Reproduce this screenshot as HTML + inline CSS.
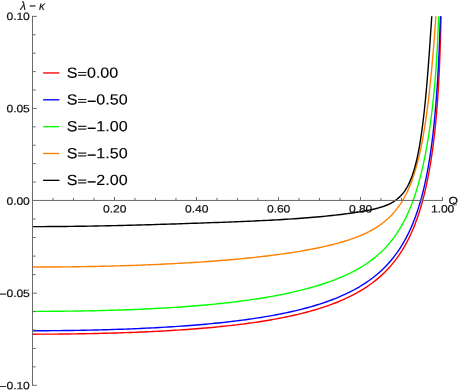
<!DOCTYPE html>
<html><head><meta charset="utf-8"><title>plot</title>
<style>
html,body{margin:0;padding:0;background:#fff;}
body{width:458px;height:392px;overflow:hidden;font-family:"Liberation Sans",sans-serif;}
svg{display:block;will-change:transform;}
</style></head><body>
<svg width="458" height="392" viewBox="0 0 458 392">
<rect width="458" height="392" fill="#ffffff"/>
<g fill="none" stroke-width="1.4" stroke-linejoin="round" stroke-linecap="butt">
<path d="M32.50,334.18 L35.59,334.18 L38.68,334.17 L41.76,334.17 L44.85,334.15 L47.94,334.14 L51.03,334.12 L54.12,334.10 L57.21,334.08 L60.29,334.05 L63.38,334.02 L66.47,333.99 L69.56,333.95 L72.65,333.91 L75.74,333.87 L78.82,333.82 L81.91,333.77 L85.00,333.71 L88.09,333.66 L91.18,333.60 L94.26,333.53 L97.35,333.46 L100.44,333.39 L103.53,333.31 L106.62,333.23 L109.71,333.15 L112.79,333.06 L115.88,332.97 L118.97,332.87 L122.06,332.77 L125.15,332.67 L128.24,332.56 L131.32,332.44 L134.41,332.33 L137.50,332.20 L140.59,332.07 L143.68,331.94 L146.76,331.80 L149.85,331.66 L152.94,331.51 L156.03,331.36 L159.12,331.20 L162.21,331.03 L165.29,330.86 L168.38,330.68 L171.47,330.50 L174.56,330.31 L177.65,330.12 L180.74,329.91 L183.82,329.70 L186.91,329.49 L190.00,329.26 L193.09,329.03 L196.18,328.79 L199.26,328.54 L202.35,328.29 L205.44,328.03 L208.53,327.75 L211.62,327.47 L214.71,327.18 L217.79,326.88 L220.88,326.57 L223.97,326.25 L227.06,325.92 L230.15,325.58 L233.24,325.23 L236.32,324.86 L239.41,324.49 L242.50,324.10 L245.59,323.70 L248.68,323.28 L251.76,322.85 L254.85,322.41 L257.94,321.95 L261.03,321.48 L264.12,320.99 L267.21,320.48 L270.29,319.96 L273.38,319.41 L276.47,318.85 L279.56,318.27 L282.65,317.67 L285.74,317.04 L288.82,316.40 L291.91,315.73 L295.00,315.03 L298.09,314.31 L301.18,313.56 L304.26,312.78 L307.35,311.97 L310.44,311.13 L313.53,310.26 L316.62,309.35 L319.71,308.40 L322.79,307.41 L325.88,306.38 L328.97,305.30 L332.06,304.17 L335.15,303.00 L338.24,301.76 L341.32,300.47 L344.41,299.11 L347.50,297.69 L350.59,296.19 L353.68,294.61 L356.76,292.95 L359.85,291.19 L362.94,289.32 L366.03,287.35 L369.12,285.26 L372.21,283.03 L375.29,280.65 L378.38,278.10 L381.47,275.38 L384.56,272.45 L387.65,269.29 L390.74,265.87 L393.82,262.16 L396.91,258.12 L400.00,253.69 L400.45,253.01 L400.89,252.33 L401.34,251.63 L401.79,250.93 L402.21,250.25 L402.64,249.56 L403.06,248.86 L403.49,248.15 L403.91,247.43 L404.31,246.74 L404.72,246.04 L405.12,245.33 L405.53,244.60 L405.93,243.87 L406.33,243.13 L406.72,242.42 L407.10,241.70 L407.48,240.96 L407.86,240.22 L408.25,239.47 L408.61,238.75 L408.97,238.02 L409.33,237.28 L409.69,236.53 L410.05,235.77 L410.39,235.05 L410.73,234.31 L411.07,233.57 L411.41,232.82 L411.75,232.05 L412.09,231.28 L412.41,230.55 L412.73,229.80 L413.05,229.05 L413.37,228.28 L413.69,227.51 L414.01,226.73 L414.33,225.93 L414.62,225.18 L414.92,224.42 L415.22,223.65 L415.52,222.87 L415.81,222.08 L416.11,221.28 L416.39,220.53 L416.66,219.77 L416.94,219.00 L417.22,218.22 L417.49,217.43 L417.77,216.63 L418.05,215.82 L418.32,215.00 L418.58,214.23 L418.83,213.46 L419.09,212.67 L419.34,211.88 L419.60,211.07 L419.85,210.26 L420.11,209.43 L420.34,208.67 L420.58,207.89 L420.81,207.11 L421.04,206.32 L421.28,205.51 L421.51,204.70 L421.74,203.88 L421.98,203.05 L422.21,202.21 L422.42,201.44 L422.64,200.65 L422.85,199.86 L423.06,199.06 L423.27,198.25 L423.49,197.43 L423.70,196.60 L423.91,195.76 L424.13,194.91 L424.34,194.05 L424.53,193.27 L424.72,192.48 L424.91,191.68 L425.10,190.87 L425.29,190.05 L425.49,189.23 L425.68,188.39 L425.87,187.54 L426.06,186.69 L426.25,185.82 L426.44,184.95 L426.61,184.16 L426.78,183.36 L426.95,182.56 L427.12,181.74 L427.29,180.92 L427.46,180.09 L427.63,179.25 L427.80,178.40 L427.97,177.54 L428.14,176.67 L428.31,175.79 L428.48,174.89 L428.63,174.11 L428.78,173.31 L428.93,172.51 L429.08,171.69 L429.23,170.87 L429.38,170.04 L429.52,169.20 L429.67,168.35 L429.82,167.49 L429.97,166.63 L430.12,165.75 L430.27,164.86 L430.42,163.96 L430.57,163.05 L430.71,162.14 L430.84,161.34 L430.97,160.53 L431.10,159.72 L431.22,158.90 L431.35,158.07 L431.48,157.23 L431.61,156.38 L431.73,155.52 L431.86,154.66 L431.99,153.78 L432.12,152.89 L432.24,152.00 L432.37,151.09 L432.50,150.17 L432.63,149.24 L432.75,148.30 L432.88,147.35 L432.99,146.55 L433.10,145.74 L433.20,144.93 L433.31,144.10 L433.41,143.26 L433.52,142.42 L433.63,141.57 L433.73,140.70 L433.84,139.83 L433.95,138.95 L434.05,138.05 L434.16,137.15 L434.26,136.24 L434.37,135.31 L434.48,134.38 L434.58,133.43 L434.69,132.47 L434.80,131.50 L434.90,130.52 L434.99,129.72 L435.07,128.92 L435.16,128.10 L435.24,127.28 L435.33,126.45 L435.41,125.61 L435.50,124.76 L435.58,123.91 L435.67,123.04 L435.75,122.16 L435.84,121.27 L435.92,120.37 L436.01,119.46 L436.09,118.54 L436.18,117.60 L436.26,116.66 L436.35,115.70 L436.43,114.73 L436.52,113.74 L436.60,112.75 L436.69,111.74 L436.77,110.71 L436.86,109.67 L436.94,108.62 L437.01,107.81 L437.07,107.00 L437.13,106.18 L437.20,105.35 L437.26,104.51 L437.32,103.67 L437.39,102.81 L437.45,101.93 L437.52,101.05 L437.58,100.16 L437.64,99.26 L437.71,98.34 L437.77,97.41 L437.84,96.47 L437.90,95.52 L437.96,94.55 L438.03,93.57 L438.09,92.57 L438.15,91.56 L438.22,90.54 L438.28,89.50 L438.35,88.44 L438.41,87.37 L438.47,86.28 L438.54,85.17 L438.60,84.04 L438.66,82.89 L438.73,81.72 L438.79,80.54 L438.83,79.73 L438.88,78.92 L438.92,78.10 L438.96,77.26 L439.00,76.42 L439.05,75.56 L439.09,74.70 L439.13,73.82 L439.17,72.93 L439.22,72.03 L439.26,71.11 L439.30,70.19 L439.34,69.25 L439.39,68.30 L439.43,67.33 L439.47,66.35 L439.51,65.35 L439.56,64.34 L439.60,63.32 L439.64,62.28 L439.68,61.22 L439.73,60.15 L439.77,59.06 L439.81,57.95 L439.85,56.82 L439.90,55.68 L439.94,54.52 L439.98,53.33 L440.02,52.13 L440.07,50.91 L440.11,49.66 L440.15,48.40 L440.19,47.11 L440.24,45.80 L440.28,44.47 L440.32,43.11 L440.36,41.73 L440.41,40.32 L440.45,38.89 L440.49,37.43 L440.53,35.95 L440.58,34.44 L440.62,32.91 L440.66,31.35 L440.70,29.77 L440.73,28.97 L440.75,28.16 L440.77,27.35 L440.79,26.53 L440.81,25.70 L440.83,24.87 L440.85,24.03 L440.87,23.19 L440.90,22.35 L440.92,21.49 L440.94,20.64 L440.96,19.78 L440.98,18.92 L441.00,18.05 L441.02,17.18 L441.04,16.31 L441.05,16.20" stroke="#ff0000"/>
<path d="M32.50,330.72 L35.59,330.72 L38.68,330.71 L41.76,330.70 L44.85,330.69 L47.94,330.68 L51.03,330.66 L54.12,330.64 L57.21,330.61 L60.29,330.58 L63.38,330.55 L66.47,330.51 L69.56,330.47 L72.65,330.43 L75.74,330.38 L78.82,330.33 L81.91,330.27 L85.00,330.21 L88.09,330.15 L91.18,330.09 L94.26,330.02 L97.35,329.94 L100.44,329.86 L103.53,329.78 L106.62,329.70 L109.71,329.61 L112.79,329.51 L115.88,329.41 L118.97,329.31 L122.06,329.20 L125.15,329.09 L128.24,328.97 L131.32,328.85 L134.41,328.72 L137.50,328.59 L140.59,328.46 L143.68,328.32 L146.76,328.17 L149.85,328.02 L152.94,327.86 L156.03,327.70 L159.12,327.53 L162.21,327.35 L165.29,327.17 L168.38,326.99 L171.47,326.79 L174.56,326.59 L177.65,326.39 L180.74,326.17 L183.82,325.95 L186.91,325.73 L190.00,325.49 L193.09,325.25 L196.18,325.00 L199.26,324.74 L202.35,324.48 L205.44,324.20 L208.53,323.92 L211.62,323.62 L214.71,323.32 L217.79,323.01 L220.88,322.69 L223.97,322.36 L227.06,322.02 L230.15,321.66 L233.24,321.30 L236.32,320.92 L239.41,320.53 L242.50,320.13 L245.59,319.72 L248.68,319.29 L251.76,318.85 L254.85,318.40 L257.94,317.92 L261.03,317.44 L264.12,316.93 L267.21,316.41 L270.29,315.88 L273.38,315.32 L276.47,314.75 L279.56,314.15 L282.65,313.53 L285.74,312.90 L288.82,312.23 L291.91,311.55 L295.00,310.84 L298.09,310.10 L301.18,309.33 L304.26,308.54 L307.35,307.71 L310.44,306.85 L313.53,305.96 L316.62,305.03 L319.71,304.06 L322.79,303.05 L325.88,302.00 L328.97,300.90 L332.06,299.75 L335.15,298.55 L338.24,297.29 L341.32,295.98 L344.41,294.59 L347.50,293.14 L350.59,291.61 L353.68,290.00 L356.76,288.31 L359.85,286.52 L362.94,284.62 L366.03,282.61 L369.12,280.47 L372.21,278.20 L375.29,275.78 L378.38,273.19 L381.47,270.41 L384.56,267.43 L387.65,264.21 L390.74,260.72 L393.82,256.94 L396.91,252.81 L400.00,248.28 L400.45,247.59 L400.89,246.89 L401.34,246.18 L401.76,245.49 L402.19,244.79 L402.61,244.09 L403.04,243.37 L403.46,242.65 L403.87,241.95 L404.27,241.24 L404.68,240.52 L405.08,239.79 L405.48,239.05 L405.87,238.34 L406.25,237.62 L406.63,236.89 L407.01,236.15 L407.40,235.40 L407.76,234.68 L408.12,233.95 L408.48,233.22 L408.84,232.47 L409.20,231.71 L409.57,230.94 L409.91,230.21 L410.25,229.47 L410.59,228.71 L410.93,227.95 L411.27,227.18 L411.58,226.44 L411.90,225.70 L412.22,224.95 L412.54,224.18 L412.86,223.41 L413.18,222.62 L413.50,221.83 L413.79,221.08 L414.09,220.31 L414.39,219.54 L414.69,218.76 L414.99,217.97 L415.28,217.17 L415.56,216.41 L415.84,215.65 L416.11,214.88 L416.39,214.09 L416.66,213.30 L416.94,212.49 L417.22,211.68 L417.47,210.92 L417.73,210.15 L417.98,209.37 L418.24,208.58 L418.49,207.78 L418.75,206.97 L419.00,206.15 L419.26,205.32 L419.49,204.55 L419.73,203.77 L419.96,202.98 L420.19,202.18 L420.43,201.37 L420.66,200.55 L420.89,199.72 L421.13,198.88 L421.34,198.11 L421.55,197.33 L421.77,196.54 L421.98,195.74 L422.19,194.93 L422.40,194.11 L422.62,193.28 L422.83,192.44 L423.04,191.59 L423.25,190.73 L423.44,189.94 L423.64,189.15 L423.83,188.35 L424.02,187.54 L424.21,186.72 L424.40,185.89 L424.59,185.05 L424.78,184.20 L424.98,183.34 L425.17,182.47 L425.34,181.68 L425.51,180.89 L425.68,180.09 L425.85,179.28 L426.02,178.46 L426.19,177.63 L426.36,176.80 L426.53,175.95 L426.70,175.09 L426.87,174.23 L427.04,173.35 L427.21,172.46 L427.38,171.56 L427.53,170.77 L427.67,169.96 L427.82,169.15 L427.97,168.33 L428.12,167.50 L428.27,166.66 L428.42,165.81 L428.57,164.95 L428.72,164.08 L428.87,163.21 L429.01,162.32 L429.16,161.42 L429.31,160.51 L429.46,159.59 L429.59,158.79 L429.72,157.98 L429.84,157.17 L429.97,156.35 L430.10,155.52 L430.23,154.67 L430.35,153.82 L430.48,152.97 L430.61,152.10 L430.74,151.22 L430.86,150.33 L430.99,149.43 L431.12,148.52 L431.25,147.60 L431.37,146.67 L431.50,145.73 L431.63,144.78 L431.73,143.98 L431.84,143.17 L431.95,142.35 L432.05,141.52 L432.16,140.69 L432.27,139.84 L432.37,138.99 L432.48,138.13 L432.58,137.25 L432.69,136.37 L432.80,135.48 L432.90,134.58 L433.01,133.67 L433.12,132.75 L433.22,131.82 L433.33,130.88 L433.44,129.93 L433.54,128.96 L433.65,127.99 L433.75,127.00 L433.84,126.20 L433.92,125.39 L434.01,124.58 L434.09,123.76 L434.18,122.93 L434.26,122.09 L434.35,121.24 L434.43,120.38 L434.52,119.52 L434.60,118.65 L434.69,117.76 L434.77,116.87 L434.86,115.97 L434.94,115.06 L435.03,114.13 L435.11,113.20 L435.20,112.26 L435.28,111.30 L435.37,110.34 L435.45,109.36 L435.54,108.38 L435.62,107.38 L435.71,106.37 L435.79,105.34 L435.88,104.31 L435.96,103.26 L436.05,102.20 L436.11,101.39 L436.18,100.58 L436.24,99.76 L436.30,98.93 L436.37,98.09 L436.43,97.25 L436.50,96.40 L436.56,95.53 L436.62,94.66 L436.69,93.78 L436.75,92.89 L436.81,92.00 L436.88,91.09 L436.94,90.17 L437.01,89.24 L437.07,88.31 L437.13,87.36 L437.20,86.40 L437.26,85.43 L437.32,84.45 L437.39,83.46 L437.45,82.46 L437.52,81.44 L437.58,80.41 L437.64,79.37 L437.71,78.32 L437.77,77.26 L437.84,76.18 L437.90,75.09 L437.96,73.99 L438.03,72.87 L438.09,71.73 L438.15,70.59 L438.22,69.42 L438.28,68.24 L438.35,67.05 L438.39,66.24 L438.43,65.43 L438.47,64.61 L438.52,63.78 L438.56,62.95 L438.60,62.10 L438.64,61.25 L438.69,60.39 L438.73,59.53 L438.77,58.65 L438.81,57.77 L438.86,56.87 L438.90,55.97 L438.94,55.06 L438.98,54.14 L439.03,53.21 L439.07,52.27 L439.11,51.33 L439.15,50.37 L439.20,49.40 L439.24,48.43 L439.28,47.44 L439.32,46.44 L439.37,45.43 L439.41,44.42 L439.45,43.39 L439.49,42.35 L439.54,41.30 L439.58,40.24 L439.62,39.16 L439.66,38.08 L439.71,36.98 L439.75,35.88 L439.79,34.76 L439.83,33.63 L439.88,32.49 L439.92,31.34 L439.96,30.17 L440.00,29.00 L440.05,27.81 L440.09,26.61 L440.13,25.40 L440.17,24.18 L440.22,22.95 L440.26,21.71 L440.30,20.46 L440.34,19.20 L440.39,17.93 L440.43,16.66 L440.44,16.20" stroke="#0000ff"/>
<path d="M32.50,311.36 L35.59,311.36 L38.68,311.36 L41.76,311.35 L44.85,311.34 L47.94,311.33 L51.03,311.31 L54.12,311.29 L57.21,311.26 L60.29,311.24 L63.38,311.20 L66.47,311.17 L69.56,311.13 L72.65,311.09 L75.74,311.05 L78.82,311.00 L81.91,310.95 L85.00,310.89 L88.09,310.84 L91.18,310.77 L94.26,310.71 L97.35,310.64 L100.44,310.56 L103.53,310.49 L106.62,310.40 L109.71,310.32 L112.79,310.23 L115.88,310.13 L118.97,310.03 L122.06,309.93 L125.15,309.82 L128.24,309.71 L131.32,309.59 L134.41,309.47 L137.50,309.34 L140.59,309.21 L143.68,309.07 L146.76,308.93 L149.85,308.78 L152.94,308.63 L156.03,308.47 L159.12,308.30 L162.21,308.13 L165.29,307.95 L168.38,307.77 L171.47,307.58 L174.56,307.38 L177.65,307.18 L180.74,306.97 L183.82,306.75 L186.91,306.52 L190.00,306.29 L193.09,306.05 L196.18,305.80 L199.26,305.54 L202.35,305.27 L205.44,305.00 L208.53,304.71 L211.62,304.42 L214.71,304.12 L217.79,303.80 L220.88,303.48 L223.97,303.15 L227.06,302.80 L230.15,302.45 L233.24,302.08 L236.32,301.70 L239.41,301.31 L242.50,300.91 L245.59,300.50 L248.68,300.07 L251.76,299.63 L254.85,299.17 L257.94,298.70 L261.03,298.21 L264.12,297.71 L267.21,297.19 L270.29,296.65 L273.38,296.10 L276.47,295.53 L279.56,294.93 L282.65,294.32 L285.74,293.69 L288.82,293.04 L291.91,292.36 L295.00,291.66 L298.09,290.93 L301.18,290.18 L304.26,289.40 L307.35,288.59 L310.44,287.74 L313.53,286.87 L316.62,285.96 L319.71,285.02 L322.79,284.03 L325.88,283.01 L328.97,281.93 L332.06,280.82 L335.15,279.65 L338.24,278.42 L341.32,277.14 L344.41,275.79 L347.50,274.37 L350.59,272.88 L353.68,271.30 L356.76,269.63 L359.85,267.87 L362.94,265.99 L366.03,264.00 L369.12,261.87 L372.21,259.60 L375.29,257.16 L378.38,254.54 L381.47,251.70 L384.56,248.64 L387.65,245.30 L390.74,241.66 L393.82,237.68 L396.91,233.28 L400.00,228.43 L400.43,227.72 L400.85,227.00 L401.25,226.30 L401.66,225.60 L402.06,224.89 L402.47,224.16 L402.87,223.43 L403.25,222.72 L403.63,222.00 L404.02,221.28 L404.40,220.54 L404.78,219.79 L405.14,219.08 L405.51,218.35 L405.87,217.62 L406.23,216.87 L406.59,216.11 L406.95,215.35 L407.29,214.62 L407.63,213.87 L407.97,213.12 L408.31,212.36 L408.65,211.59 L408.99,210.81 L409.31,210.06 L409.63,209.31 L409.95,208.55 L410.27,207.77 L410.59,206.99 L410.90,206.19 L411.20,205.44 L411.50,204.68 L411.80,203.91 L412.09,203.13 L412.39,202.34 L412.69,201.54 L412.97,200.79 L413.24,200.03 L413.52,199.25 L413.79,198.47 L414.07,197.68 L414.35,196.88 L414.62,196.07 L414.90,195.25 L415.16,194.48 L415.41,193.71 L415.67,192.92 L415.92,192.13 L416.18,191.33 L416.43,190.51 L416.69,189.69 L416.94,188.85 L417.17,188.08 L417.41,187.30 L417.64,186.51 L417.88,185.71 L418.11,184.90 L418.34,184.08 L418.58,183.25 L418.81,182.42 L419.05,181.57 L419.26,180.79 L419.47,180.00 L419.68,179.21 L419.90,178.40 L420.11,177.59 L420.32,176.76 L420.53,175.93 L420.75,175.09 L420.96,174.24 L421.17,173.38 L421.36,172.60 L421.55,171.81 L421.74,171.01 L421.94,170.20 L422.13,169.39 L422.32,168.56 L422.51,167.73 L422.70,166.89 L422.89,166.04 L423.08,165.18 L423.27,164.31 L423.47,163.43 L423.64,162.64 L423.81,161.85 L423.98,161.04 L424.15,160.23 L424.32,159.41 L424.49,158.58 L424.66,157.74 L424.83,156.90 L425.00,156.04 L425.17,155.18 L425.34,154.31 L425.51,153.43 L425.68,152.54 L425.83,151.75 L425.97,150.96 L426.12,150.15 L426.27,149.35 L426.42,148.53 L426.57,147.71 L426.72,146.87 L426.87,146.03 L427.02,145.19 L427.16,144.33 L427.31,143.47 L427.46,142.59 L427.61,141.71 L427.76,140.82 L427.91,139.92 L428.06,139.01 L428.21,138.09 L428.33,137.30 L428.46,136.50 L428.59,135.69 L428.72,134.87 L428.84,134.05 L428.97,133.22 L429.10,132.38 L429.23,131.53 L429.35,130.68 L429.48,129.82 L429.61,128.95 L429.74,128.07 L429.86,127.18 L429.99,126.28 L430.12,125.38 L430.25,124.46 L430.37,123.54 L430.50,122.61 L430.63,121.67 L430.76,120.71 L430.86,119.91 L430.97,119.11 L431.08,118.29 L431.18,117.47 L431.29,116.64 L431.39,115.80 L431.50,114.95 L431.61,114.10 L431.71,113.24 L431.82,112.37 L431.93,111.49 L432.03,110.61 L432.14,109.71 L432.24,108.81 L432.35,107.89 L432.46,106.97 L432.56,106.04 L432.67,105.10 L432.78,104.14 L432.88,103.18 L432.99,102.21 L433.10,101.22 L433.20,100.23 L433.29,99.42 L433.37,98.61 L433.46,97.79 L433.54,96.97 L433.63,96.13 L433.71,95.29 L433.80,94.43 L433.88,93.57 L433.97,92.70 L434.05,91.83 L434.14,90.94 L434.22,90.04 L434.31,89.13 L434.39,88.22 L434.48,87.29 L434.56,86.35 L434.65,85.40 L434.73,84.44 L434.82,83.47 L434.90,82.49 L434.99,81.49 L435.07,80.48 L435.16,79.46 L435.24,78.42 L435.33,77.37 L435.41,76.31 L435.48,75.50 L435.54,74.69 L435.60,73.86 L435.67,73.03 L435.73,72.18 L435.79,71.33 L435.86,70.46 L435.92,69.59 L435.99,68.71 L436.05,67.81 L436.11,66.90 L436.18,65.99 L436.24,65.06 L436.30,64.11 L436.37,63.16 L436.43,62.19 L436.50,61.21 L436.56,60.21 L436.62,59.20 L436.69,58.18 L436.75,57.14 L436.81,56.08 L436.88,55.01 L436.94,53.92 L437.01,52.81 L437.07,51.68 L437.13,50.54 L437.20,49.37 L437.26,48.19 L437.30,47.38 L437.35,46.57 L437.39,45.75 L437.43,44.91 L437.47,44.07 L437.52,43.21 L437.56,42.35 L437.60,41.47 L437.64,40.58 L437.69,39.67 L437.73,38.76 L437.77,37.83 L437.81,36.89 L437.86,35.93 L437.90,34.96 L437.94,33.98 L437.98,32.97 L438.03,31.96 L438.07,30.93 L438.11,29.88 L438.15,28.81 L438.20,27.73 L438.24,26.62 L438.28,25.50 L438.32,24.36 L438.37,23.20 L438.41,22.01 L438.45,20.81 L438.49,19.58 L438.54,18.33 L438.58,17.05 L438.61,16.20" stroke="#00ff00"/>
<path d="M32.50,267.06 L35.59,267.06 L38.68,267.06 L41.76,267.05 L44.85,267.04 L47.94,267.02 L51.03,267.01 L54.12,266.99 L57.21,266.96 L60.29,266.94 L63.38,266.91 L66.47,266.88 L69.56,266.84 L72.65,266.80 L75.74,266.76 L78.82,266.72 L81.91,266.67 L85.00,266.62 L88.09,266.56 L91.18,266.51 L94.26,266.44 L97.35,266.38 L100.44,266.31 L103.53,266.24 L106.62,266.17 L109.71,266.09 L112.79,266.01 L115.88,265.92 L118.97,265.83 L122.06,265.74 L125.15,265.65 L128.24,265.55 L131.32,265.44 L134.41,265.34 L137.50,265.23 L140.59,265.11 L143.68,264.99 L146.76,264.87 L149.85,264.75 L152.94,264.61 L156.03,264.48 L159.12,264.34 L162.21,264.20 L165.29,264.05 L168.38,263.90 L171.47,263.74 L174.56,263.58 L177.65,263.41 L180.74,263.24 L183.82,263.07 L186.91,262.88 L190.00,262.70 L193.09,262.51 L196.18,262.31 L199.26,262.11 L202.35,261.90 L205.44,261.69 L208.53,261.47 L211.62,261.24 L214.71,261.01 L217.79,260.77 L220.88,260.53 L223.97,260.28 L227.06,260.02 L230.15,259.75 L233.24,259.48 L236.32,259.20 L239.41,258.91 L242.50,258.62 L245.59,258.31 L248.68,258.00 L251.76,257.68 L254.85,257.35 L257.94,257.01 L261.03,256.67 L264.12,256.31 L267.21,255.94 L270.29,255.56 L273.38,255.17 L276.47,254.77 L279.56,254.36 L282.65,253.93 L285.74,253.49 L288.82,253.04 L291.91,252.57 L295.00,252.08 L298.09,251.58 L301.18,251.07 L304.26,250.53 L307.35,249.98 L310.44,249.41 L313.53,248.81 L316.62,248.20 L319.71,247.56 L322.79,246.89 L325.88,246.19 L328.97,245.47 L332.06,244.71 L335.15,243.92 L338.24,243.08 L341.32,242.21 L344.41,241.29 L347.50,240.32 L350.59,239.29 L353.68,238.21 L356.76,237.05 L359.85,235.81 L362.94,234.49 L366.03,233.08 L369.12,231.55 L372.21,229.89 L375.29,228.09 L378.38,226.13 L381.47,223.97 L384.56,221.59 L387.65,218.95 L390.74,216.00 L393.82,212.68 L396.91,208.92 L400.00,204.63 L400.45,203.96 L400.89,203.27 L401.34,202.58 L401.76,201.90 L402.19,201.20 L402.61,200.50 L403.04,199.78 L403.44,199.08 L403.85,198.37 L404.25,197.64 L404.65,196.90 L405.04,196.18 L405.42,195.45 L405.80,194.71 L406.16,193.99 L406.53,193.27 L406.89,192.52 L407.25,191.77 L407.59,191.04 L407.93,190.30 L408.27,189.55 L408.61,188.78 L408.95,188.00 L409.27,187.26 L409.59,186.50 L409.91,185.73 L410.22,184.95 L410.52,184.20 L410.82,183.45 L411.12,182.68 L411.41,181.89 L411.71,181.10 L411.99,180.35 L412.26,179.58 L412.54,178.81 L412.82,178.02 L413.09,177.22 L413.37,176.40 L413.62,175.64 L413.88,174.86 L414.13,174.08 L414.39,173.28 L414.65,172.47 L414.90,171.64 L415.13,170.88 L415.37,170.10 L415.60,169.31 L415.84,168.51 L416.07,167.70 L416.30,166.87 L416.54,166.04 L416.77,165.19 L416.98,164.40 L417.20,163.61 L417.41,162.81 L417.62,161.99 L417.83,161.17 L418.05,160.33 L418.26,159.48 L418.47,158.62 L418.66,157.83 L418.85,157.04 L419.05,156.23 L419.24,155.41 L419.43,154.59 L419.62,153.75 L419.81,152.90 L420.00,152.04 L420.19,151.17 L420.36,150.39 L420.53,149.60 L420.70,148.80 L420.87,147.99 L421.04,147.17 L421.21,146.34 L421.38,145.50 L421.55,144.65 L421.72,143.79 L421.89,142.92 L422.06,142.04 L422.23,141.15 L422.38,140.36 L422.53,139.56 L422.68,138.76 L422.83,137.95 L422.98,137.12 L423.13,136.29 L423.27,135.45 L423.42,134.60 L423.57,133.74 L423.72,132.88 L423.87,132.00 L424.02,131.11 L424.17,130.22 L424.32,129.31 L424.47,128.40 L424.59,127.60 L424.72,126.80 L424.85,126.00 L424.98,125.18 L425.10,124.36 L425.23,123.53 L425.36,122.69 L425.49,121.84 L425.61,120.98 L425.74,120.12 L425.87,119.25 L426.00,118.37 L426.12,117.48 L426.25,116.58 L426.38,115.68 L426.51,114.76 L426.63,113.84 L426.76,112.91 L426.89,111.97 L427.02,111.02 L427.12,110.22 L427.23,109.41 L427.33,108.60 L427.44,107.78 L427.55,106.96 L427.65,106.13 L427.76,105.29 L427.87,104.44 L427.97,103.59 L428.08,102.73 L428.18,101.86 L428.29,100.99 L428.40,100.11 L428.50,99.22 L428.61,98.33 L428.72,97.42 L428.82,96.51 L428.93,95.60 L429.04,94.67 L429.14,93.74 L429.25,92.80 L429.35,91.85 L429.46,90.89 L429.57,89.93 L429.67,88.96 L429.78,87.98 L429.89,86.99 L429.97,86.20 L430.06,85.40 L430.14,84.59 L430.23,83.78 L430.31,82.96 L430.40,82.14 L430.48,81.31 L430.57,80.48 L430.65,79.64 L430.74,78.80 L430.82,77.95 L430.91,77.10 L430.99,76.24 L431.08,75.37 L431.16,74.50 L431.25,73.62 L431.33,72.74 L431.42,71.85 L431.50,70.96 L431.59,70.06 L431.67,69.15 L431.76,68.24 L431.84,67.32 L431.93,66.40 L432.01,65.47 L432.10,64.54 L432.18,63.60 L432.27,62.65 L432.35,61.70 L432.44,60.74 L432.52,59.78 L432.61,58.81 L432.69,57.83 L432.78,56.85 L432.86,55.86 L432.95,54.86 L433.03,53.86 L433.12,52.86 L433.20,51.84 L433.29,50.82 L433.37,49.80 L433.46,48.77 L433.54,47.73 L433.63,46.69 L433.71,45.64 L433.80,44.58 L433.88,43.52 L433.95,42.72 L434.01,41.91 L434.07,41.10 L434.14,40.29 L434.20,39.48 L434.26,38.66 L434.33,37.84 L434.39,37.01 L434.46,36.18 L434.52,35.35 L434.58,34.51 L434.65,33.67 L434.71,32.83 L434.77,31.98 L434.84,31.13 L434.90,30.27 L434.97,29.42 L435.03,28.55 L435.09,27.69 L435.16,26.82 L435.22,25.94 L435.28,25.07 L435.35,24.18 L435.41,23.30 L435.48,22.41 L435.54,21.51 L435.60,20.62 L435.67,19.72 L435.73,18.81 L435.79,17.90 L435.86,16.98 L435.91,16.20" stroke="#ff8000"/>
<path d="M32.50,226.61 L35.59,226.61 L38.68,226.60 L41.76,226.59 L44.85,226.58 L47.94,226.57 L51.03,226.55 L54.12,226.53 L57.21,226.51 L60.29,226.49 L63.38,226.46 L66.47,226.43 L69.56,226.39 L72.65,226.36 L75.74,226.32 L78.82,226.27 L81.91,226.23 L85.00,226.18 L88.09,226.13 L91.18,226.08 L94.26,226.02 L97.35,225.97 L100.44,225.91 L103.53,225.85 L106.62,225.78 L109.71,225.71 L112.79,225.65 L115.88,225.58 L118.97,225.50 L122.06,225.43 L125.15,225.35 L128.24,225.27 L131.32,225.19 L134.41,225.11 L137.50,225.03 L140.59,224.94 L143.68,224.86 L146.76,224.77 L149.85,224.68 L152.94,224.59 L156.03,224.50 L159.12,224.41 L162.21,224.31 L165.29,224.22 L168.38,224.12 L171.47,224.03 L174.56,223.93 L177.65,223.83 L180.74,223.73 L183.82,223.63 L186.91,223.52 L190.00,223.42 L193.09,223.32 L196.18,223.21 L199.26,223.11 L202.35,223.00 L205.44,222.89 L208.53,222.78 L211.62,222.67 L214.71,222.56 L217.79,222.45 L220.88,222.33 L223.97,222.22 L227.06,222.10 L230.15,221.98 L233.24,221.86 L236.32,221.74 L239.41,221.61 L242.50,221.48 L245.59,221.35 L248.68,221.22 L251.76,221.08 L254.85,220.94 L257.94,220.80 L261.03,220.65 L264.12,220.50 L267.21,220.35 L270.29,220.19 L273.38,220.02 L276.47,219.85 L279.56,219.68 L282.65,219.50 L285.74,219.31 L288.82,219.12 L291.91,218.92 L295.00,218.71 L298.09,218.49 L301.18,218.27 L304.26,218.04 L307.35,217.79 L310.44,217.54 L313.53,217.28 L316.62,217.01 L319.71,216.73 L322.79,216.44 L325.88,216.14 L328.97,215.82 L332.06,215.49 L335.15,215.15 L338.24,214.80 L341.32,214.43 L344.41,214.04 L347.50,213.64 L350.59,213.22 L353.68,212.78 L356.76,212.31 L359.85,211.82 L362.94,211.30 L366.03,210.74 L369.12,210.14 L372.21,209.48 L375.29,208.76 L378.38,207.95 L381.47,207.04 L384.56,205.99 L387.65,204.76 L390.74,203.29 L393.82,201.52 L396.91,199.34 L400.00,196.62 L400.57,196.04 L401.13,195.45 L401.68,194.84 L402.21,194.23 L402.74,193.59 L403.25,192.95 L403.74,192.31 L404.23,191.65 L404.70,190.98 L405.17,190.30 L405.61,189.61 L406.06,188.90 L406.48,188.20 L406.89,187.51 L407.29,186.79 L407.69,186.05 L408.08,185.33 L408.46,184.57 L408.82,183.84 L409.18,183.08 L409.52,182.35 L409.86,181.59 L410.20,180.80 L410.52,180.05 L410.84,179.27 L411.14,178.52 L411.44,177.75 L411.73,176.96 L412.01,176.21 L412.29,175.44 L412.56,174.64 L412.84,173.83 L413.09,173.06 L413.35,172.27 L413.60,171.46 L413.86,170.63 L414.09,169.85 L414.33,169.06 L414.56,168.25 L414.79,167.41 L415.01,166.64 L415.22,165.85 L415.43,165.05 L415.64,164.23 L415.86,163.39 L416.07,162.53 L416.26,161.75 L416.45,160.95 L416.64,160.13 L416.83,159.30 L417.03,158.46 L417.22,157.59 L417.41,156.71 L417.58,155.92 L417.75,155.11 L417.92,154.29 L418.09,153.45 L418.26,152.60 L418.43,151.73 L418.60,150.85 L418.77,149.96 L418.92,149.16 L419.07,148.36 L419.22,147.54 L419.36,146.71 L419.51,145.86 L419.66,145.00 L419.81,144.13 L419.96,143.25 L420.11,142.36 L420.26,141.45 L420.38,140.66 L420.51,139.85 L420.64,139.04 L420.77,138.22 L420.89,137.39 L421.02,136.55 L421.15,135.69 L421.28,134.83 L421.40,133.95 L421.53,133.07 L421.66,132.17 L421.79,131.26 L421.91,130.34 L422.04,129.41 L422.17,128.46 L422.28,127.66 L422.38,126.86 L422.49,126.04 L422.59,125.22 L422.70,124.39 L422.81,123.55 L422.91,122.70 L423.02,121.84 L423.13,120.97 L423.23,120.10 L423.34,119.21 L423.44,118.32 L423.55,117.41 L423.66,116.50 L423.76,115.57 L423.87,114.64 L423.98,113.69 L424.08,112.74 L424.19,111.78 L424.30,110.80 L424.40,109.82 L424.51,108.83 L424.59,108.02 L424.68,107.22 L424.76,106.40 L424.85,105.58 L424.93,104.75 L425.02,103.91 L425.10,103.07 L425.19,102.22 L425.27,101.36 L425.36,100.50 L425.44,99.63 L425.53,98.75 L425.61,97.87 L425.70,96.98 L425.78,96.08 L425.87,95.17 L425.95,94.26 L426.04,93.34 L426.12,92.41 L426.21,91.48 L426.29,90.53 L426.38,89.58 L426.46,88.63 L426.55,87.66 L426.63,86.69 L426.72,85.71 L426.80,84.73 L426.89,83.74 L426.97,82.73 L427.06,81.73 L427.14,80.71 L427.23,79.69 L427.31,78.66 L427.40,77.62 L427.48,76.58 L427.57,75.52 L427.65,74.46 L427.72,73.67 L427.78,72.86 L427.84,72.05 L427.91,71.24 L427.97,70.43 L428.04,69.61 L428.10,68.78 L428.16,67.96 L428.23,67.13 L428.29,66.29 L428.36,65.45 L428.42,64.61 L428.48,63.76 L428.55,62.91 L428.61,62.05 L428.67,61.20 L428.74,60.33 L428.80,59.47 L428.87,58.60 L428.93,57.72 L428.99,56.85 L429.06,55.97 L429.12,55.08 L429.18,54.20 L429.25,53.31 L429.31,52.41 L429.38,51.52 L429.44,50.62 L429.50,49.71 L429.57,48.81 L429.63,47.90 L429.69,46.99 L429.76,46.07 L429.82,45.15 L429.89,44.24 L429.95,43.31 L430.01,42.39 L430.08,41.46 L430.14,40.53 L430.20,39.60 L430.27,38.67 L430.33,37.74 L430.40,36.80 L430.46,35.86 L430.52,34.92 L430.59,33.99 L430.65,33.04 L430.71,32.10 L430.78,31.16 L430.84,30.22 L430.91,29.28 L430.97,28.33 L431.03,27.39 L431.10,26.45 L431.16,25.51 L431.22,24.57 L431.29,23.63 L431.35,22.69 L431.42,21.75 L431.48,20.82 L431.54,19.88 L431.61,18.95 L431.67,18.03 L431.73,17.10 L431.80,16.20" stroke="#000000"/>
</g>
<path d="M32.5,15.87 V385.80 M32.5,200.45 H442.95" fill="none" stroke="#6a6a6a" stroke-width="1"/>
<path d="M32.5,385.30 h4.3 M32.5,366.88 h3.2 M32.5,348.46 h3.2 M32.5,330.04 h3.2 M32.5,311.62 h3.2 M32.5,293.20 h4.3 M32.5,274.65 h3.2 M32.5,256.10 h3.2 M32.5,237.55 h3.2 M32.5,219.00 h3.2 M32.5,182.04 h3.2 M32.5,163.64 h3.2 M32.5,145.23 h3.2 M32.5,126.83 h3.2 M32.5,108.42 h4.3 M32.5,90.01 h3.2 M32.5,71.60 h3.2 M32.5,53.19 h3.2 M32.5,34.78 h3.2 M32.5,16.37 h4.3 M32.50,200.45 v-3.5 M53.00,200.45 v-2.6 M73.50,200.45 v-2.6 M93.99,200.45 v-2.6 M114.49,200.45 v-3.5 M134.99,200.45 v-2.6 M155.49,200.45 v-2.6 M175.98,200.45 v-2.6 M196.48,200.45 v-3.5 M216.98,200.45 v-2.6 M237.47,200.45 v-2.6 M257.97,200.45 v-2.6 M278.47,200.45 v-3.5 M298.97,200.45 v-2.6 M319.47,200.45 v-2.6 M339.96,200.45 v-2.6 M360.46,200.45 v-3.5 M380.96,200.45 v-2.6 M401.45,200.45 v-2.6 M421.95,200.45 v-2.6 M442.45,200.45 v-3.5" fill="none" stroke="#6a6a6a" stroke-width="1"/>
<g font-family="Liberation Sans, sans-serif" fill="#101010" stroke="#101010" stroke-width="0.18">
<text transform="translate(29.70,20.10) rotate(0.03) scale(1.145,1)" font-size="10.6" letter-spacing="-0.09" text-anchor="end">0.10</text>
<text transform="translate(29.70,112.35) rotate(0.03) scale(1.145,1)" font-size="10.6" letter-spacing="-0.09" text-anchor="end">0.05</text>
<text transform="translate(29.70,204.75) rotate(0.03) scale(1.145,1)" font-size="10.6" letter-spacing="-0.09" text-anchor="end">0.00</text>
<text transform="translate(29.70,297.00) rotate(0.03) scale(1.145,1)" font-size="10.6" letter-spacing="-0.09" text-anchor="end"><tspan dy="0.8">−</tspan><tspan dy="-0.8">0.05</tspan></text>
<text transform="translate(29.70,389.20) rotate(0.03) scale(1.145,1)" font-size="10.6" letter-spacing="-0.09" text-anchor="end"><tspan dy="0.8">−</tspan><tspan dy="-0.8">0.10</tspan></text>
<text transform="translate(114.69,212.55) rotate(0.03) scale(1.145,1)" font-size="10.6" letter-spacing="-0.09" text-anchor="middle">0.20</text>
<text transform="translate(196.68,212.55) rotate(0.03) scale(1.145,1)" font-size="10.6" letter-spacing="-0.09" text-anchor="middle">0.40</text>
<text transform="translate(278.67,212.55) rotate(0.03) scale(1.145,1)" font-size="10.6" letter-spacing="-0.09" text-anchor="middle">0.60</text>
<text transform="translate(360.66,212.55) rotate(0.03) scale(1.145,1)" font-size="10.6" letter-spacing="-0.09" text-anchor="middle">0.80</text>
<text transform="translate(442.65,212.55) rotate(0.03) scale(1.145,1)" font-size="10.6" letter-spacing="-0.09" text-anchor="middle">1.00</text>
<clipPath id="qc"><rect x="440" y="190" width="18" height="15.3"/></clipPath>
<g clip-path="url(#qc)"><text transform="translate(448.40,204.35) rotate(0.03) scale(1.145,1)" font-size="10.6" letter-spacing="0" text-anchor="start">Q</text></g>
<path d="M453.4,202.5 L456.5,204.5" stroke="#101010" stroke-width="1" fill="none"/>
</g>
<g font-family="Liberation Sans, sans-serif" font-style="italic" fill="#101010" stroke="#101010" stroke-width="0.12">
<text transform="translate(20.20,10.10) rotate(0.03) scale(0.965,1)" font-size="12.0" letter-spacing="0" text-anchor="start">λ − κ</text>
</g>
<g font-family="Liberation Sans, sans-serif" fill="#000" stroke="#000" stroke-width="0.12">
<path d="M43.1,72.95 H59.4" stroke="#ff0000" stroke-width="1.35" fill="none"/>
<text transform="translate(66.80,77.65) rotate(0.03) scale(1.095,1)" font-size="14.7" letter-spacing="0" text-anchor="start">S</text>
<text transform="translate(77.54,77.53) rotate(0.03) scale(1.095,0.74)" font-size="14.7" stroke-width="0.4">=</text>
<text transform="translate(86.94,77.65) rotate(0.03) scale(1.095,1)" font-size="14.7" letter-spacing="0" text-anchor="start">0.00</text>
<path d="M43.1,99.8 H59.4" stroke="#0000ff" stroke-width="1.35" fill="none"/>
<text transform="translate(66.80,104.50) rotate(0.03) scale(1.095,1)" font-size="14.7" letter-spacing="0" text-anchor="start">S</text>
<text transform="translate(77.54,104.38) rotate(0.03) scale(1.095,0.74)" font-size="14.7" stroke-width="0.4">=</text>
<text transform="translate(86.94,104.50) rotate(0.03) scale(1.095,1)" font-size="14.7" letter-spacing="0" text-anchor="start"><tspan dy="1.8">−</tspan><tspan dy="-1.8">0.50</tspan></text>
<path d="M43.1,126.65 H59.4" stroke="#00ff00" stroke-width="1.35" fill="none"/>
<text transform="translate(66.80,131.35) rotate(0.03) scale(1.095,1)" font-size="14.7" letter-spacing="0" text-anchor="start">S</text>
<text transform="translate(77.54,131.23) rotate(0.03) scale(1.095,0.74)" font-size="14.7" stroke-width="0.4">=</text>
<text transform="translate(86.94,131.35) rotate(0.03) scale(1.095,1)" font-size="14.7" letter-spacing="0" text-anchor="start"><tspan dy="1.8">−</tspan><tspan dy="-1.8">1.00</tspan></text>
<path d="M43.1,153.5 H59.4" stroke="#ff8000" stroke-width="1.35" fill="none"/>
<text transform="translate(66.80,158.20) rotate(0.03) scale(1.095,1)" font-size="14.7" letter-spacing="0" text-anchor="start">S</text>
<text transform="translate(77.54,158.08) rotate(0.03) scale(1.095,0.74)" font-size="14.7" stroke-width="0.4">=</text>
<text transform="translate(86.94,158.20) rotate(0.03) scale(1.095,1)" font-size="14.7" letter-spacing="0" text-anchor="start"><tspan dy="1.8">−</tspan><tspan dy="-1.8">1.50</tspan></text>
<path d="M43.1,180.35 H59.4" stroke="#000000" stroke-width="1.35" fill="none"/>
<text transform="translate(66.80,185.05) rotate(0.03) scale(1.095,1)" font-size="14.7" letter-spacing="0" text-anchor="start">S</text>
<text transform="translate(77.54,184.93) rotate(0.03) scale(1.095,0.74)" font-size="14.7" stroke-width="0.4">=</text>
<text transform="translate(86.94,185.05) rotate(0.03) scale(1.095,1)" font-size="14.7" letter-spacing="0" text-anchor="start"><tspan dy="1.8">−</tspan><tspan dy="-1.8">2.00</tspan></text>
</g>
</svg>
</body></html>
